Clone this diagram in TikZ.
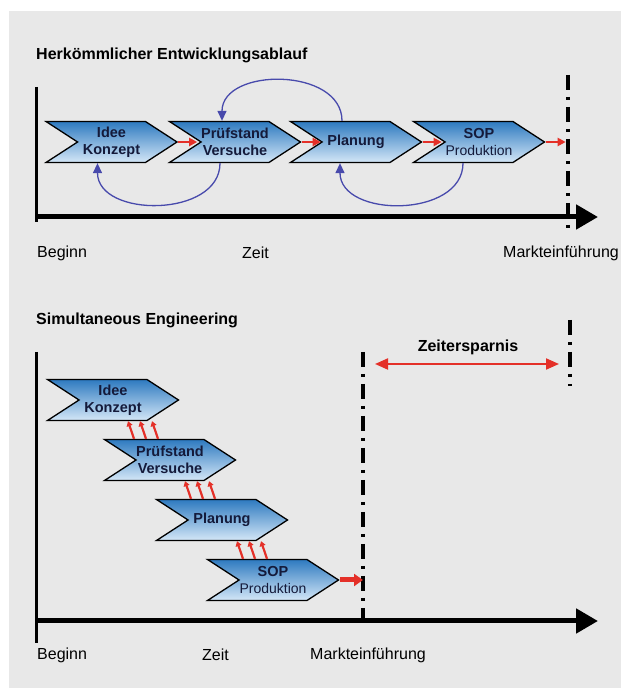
\documentclass[tikz,border=0pt]{standalone}
\usepackage{fontspec}
\setmainfont{Liberation Sans}
\usetikzlibrary{shapes.symbols,arrows.meta}

\definecolor{panelgray}{RGB}{232,232,232}
\definecolor{chevtop}{RGB}{46,122,192}
\definecolor{chevbot}{RGB}{212,231,247}
\definecolor{loopblue}{RGB}{72,74,172}
\definecolor{flowred}{RGB}{228,48,40}
\definecolor{textnavy}{RGB}{20,26,58}

\tikzset{
  chevron/.style={signal, signal to=east, signal from=west, signal pointer angle=66,
    draw=black, line width=1.3pt, top color=chevtop, bottom color=chevbot,
    minimum width=131pt, minimum height=41pt, inner sep=0pt, align=center,
    text=textnavy, font=\fontsize{14.5}{17}\selectfont\bfseries},
  heading/.style={anchor=west, inner sep=0pt, font=\fontsize{16}{18}\selectfont\bfseries},
  axislabel/.style={anchor=west, inner sep=0pt, font=\fontsize{16}{18}\selectfont},
  timeaxis/.style={line width=5pt, -{Triangle[length=22pt,width=24pt]}},
  startline/.style={line width=3pt},
  dashdot/.style={line width=3.5pt, dash pattern=on 15pt off 7pt on 3pt off 7pt},
  loopback/.style={loopblue, line width=1.3pt, -{Triangle[length=10pt,width=9pt]}, looseness=1.15},
  handover/.style={flowred, line width=2.5pt, -{Triangle[length=8pt,width=8pt]}},
  overlap/.style={flowred, line width=2.2pt, -{Triangle[length=5pt,width=6pt]}},
}

\begin{document}
\begin{tikzpicture}[x=1pt,y=1pt]
  \useasboundingbox (0,0) rectangle (621,688);
  \fill[panelgray] (9,0) rectangle (621,677);

  % herkoemmlicher Ablauf
  \node[heading] (head1) at (36,633) {Herkömmlicher Entwicklungsablauf};
  \coordinate (zero1) at (36,601);
  \coordinate (base1) at (36,466);
  \coordinate (end1) at (598,471);
  \draw[startline] (zero1) -- (base1);
  \draw[timeaxis] (36,471) -- (end1);
  \coordinate (mkt1top) at (568,613);
  \coordinate (mkt1bot) at (568,460);
  \draw[dashdot] (mkt1top) -- (mkt1bot);

  \node[chevron] (t1) at (111.5,546) {Idee\\Konzept};
  \node[chevron] (t2) at (235,546) {Prüfstand\\Versuche};
  \node[chevron] (t3) at (356,546) {Planung};
  \node[chevron] (t4) at (479,546) {SOP\\{\mdseries\fontsize{14}{17}\selectfont Produktion}};

  \draw[handover] (t1.east) -- +(19,0);
  \draw[handover] (t2.east) -- +(19,0);
  \draw[handover] (t3.east) -- +(19,0);
  \draw[handover] (t4.east) -- +(20,0);

  \draw[loopback] ([xshift=-15]t2.south) to[out=-90,in=-90] ([xshift=-14]t1.south);
  \draw[loopback] ([xshift=-14]t3.north) to[out=90,in=90] ([xshift=-13]t2.north);
  \draw[loopback] ([xshift=-16]t4.south) to[out=-90,in=-90] ([xshift=-16]t3.south);

  \node[axislabel] (beg1) at (37,435) {Beginn};
  \node[axislabel] (time1) at (242,435) {Zeit};
  \node[axislabel] (mkt1) at (503,435) {Markteinführung};

  % Simultaneous Engineering
  \node[heading] (head2) at (36,368) {Simultaneous Engineering};
  \coordinate (zero2) at (36,336);
  \coordinate (base2) at (36,45);
  \coordinate (end2) at (598,67);
  \draw[startline] (zero2) -- (base2);
  \draw[timeaxis] (36,67) -- (end2);
  \coordinate (mkt2top) at (363,336);
  \coordinate (mkt2bot) at (363,60);
  \draw[dashdot] (mkt2top) -- (mkt2bot);
  \coordinate (old2top) at (570,368);
  \coordinate (old2bot) at (570,302);
  \draw[dashdot] (old2top) -- (old2bot);

  \node[chevron] (s1) at (113,288) {Idee\\Konzept};
  \node[chevron] (s2) at (170,228) {Prüfstand\\Versuche};
  \node[chevron] (s3) at (222,168) {Planung};
  \node[chevron] (s4) at (273,108) {SOP\\{\mdseries\fontsize{14}{17}\selectfont Produktion}};

  \foreach \d in {21,33,45} {
    \draw[overlap] ([xshift={\d-57}]s2.north) -- ([xshift={\d-6}]s1.south);
    \draw[overlap] ([xshift={\d-52}]s3.north) -- ([xshift={\d-6}]s2.south);
    \draw[overlap] ([xshift={\d-51}]s4.north) -- ([xshift={\d-6}]s3.south);
  }
  \draw[flowred, line width=5pt, -{Triangle[length=9pt,width=12pt]}] (s4.east) -- (s4.east -| mkt2top);

  \coordinate (gainl) at (375,324);
  \coordinate (gainr) at (559,324);
  \draw[flowred, line width=2pt, {Triangle[length=13pt,width=11pt]}-{Triangle[length=13pt,width=11pt]}] (gainl) -- (gainr);
  \node[font=\fontsize{16}{18}\selectfont\bfseries, inner sep=0pt] (gain) at (468,341) {Zeitersparnis};

  \node[axislabel] (beg2) at (37,33) {Beginn};
  \node[axislabel] (time2) at (202,33) {Zeit};
  \node[axislabel] (mkt2) at (310,33) {Markteinführung};
\end{tikzpicture}
\end{document}
